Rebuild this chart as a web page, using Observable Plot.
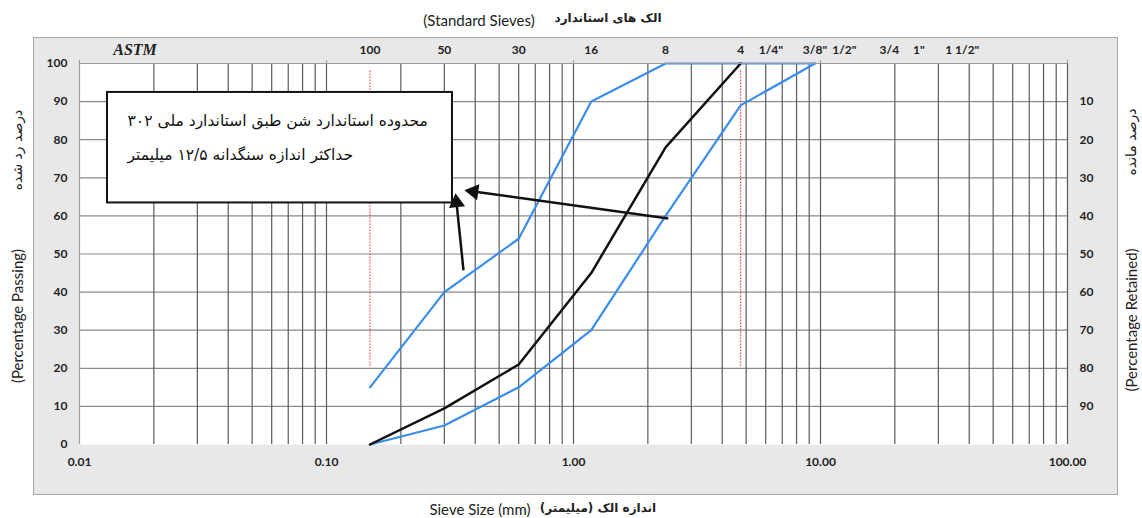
<!DOCTYPE html>
<html><head><meta charset="utf-8">
<script src="https://cdn.jsdelivr.net/npm/d3@7"></script>
<script src="https://cdn.jsdelivr.net/npm/@observablehq/plot@0.6"></script>
<style>
body{margin:0;background:#fff;}
#wrap{position:relative;width:1142px;height:518px;overflow:hidden;font-family:Lato,"Open Sans",sans-serif;}
#box{position:absolute;left:33px;top:37px;width:1083px;height:456px;background:#e8e8e8;border:1px solid #a6a6a6;}
#chart{position:absolute;left:0;top:0;}
.t{position:absolute;white-space:nowrap;color:#222;font-size:15px;transform:translate(-50%,-50%);}
.r{transform:translate(-50%,-50%) rotate(-90deg);}
.fa{font-family:"DejaVu Sans",sans-serif;font-weight:bold;font-size:12px;}
</style></head><body>
<div id="wrap">
<div id="box"></div>
<div id="chart"></div>
<div class="t" style="left:479px;top:20px;">(Standard Sieves)</div>
<div class="t fa" style="left:608px;top:18px;" dir="rtl">الک های استاندارد</div>
<div class="t" style="left:135px;top:50px;font-family:'Liberation Serif',serif;font-weight:bold;font-style:italic;font-size:16px;">ASTM</div>
<div class="t r" style="left:17px;top:316px;">(Percentage Passing)</div>
<div class="t r fa" style="left:17px;top:150px;font-weight:normal;font-size:14px;" dir="rtl">درصد رد شده</div>
<div class="t r" style="left:1131px;top:320px;">(Percentage Retained)</div>
<div class="t r fa" style="left:1131px;top:142px;font-weight:normal;font-size:14px;" dir="rtl">درصد مانده</div>
<div class="t" style="left:480px;top:509px;">Sieve Size (mm)</div>
<div class="t fa" style="left:598px;top:508px;" dir="rtl">اندازه الک (میلیمتر)</div>
</div>
<script>
// Standard sieves (top axis)
const sieveLabels = ["100","50","30","16","8","4","1/4\"","3/8\"","1/2\"","3/4","1\"","1 1/2\""];
const sieveSizes = [0.15,0.3,0.6,1.18,2.36,4.75,6.3,9.5,12.5,19,25,37.5];
// Sample gradation (black)
const sampleSizes = [0.15,0.3,0.6,1.18,2.36,4.75];
const samplePassing = [0,9.5,21,45,78,100];
// Standard limits (blue)
const upperSizes = [0.15,0.3,0.6,1.18,2.36,4.75,9.5];
const upperPassing = [15,40,54,90,100,100,100];
const lowerSizes = [0.15,0.3,0.6,1.18,2.36,4.75,9.5];
const lowerPassing = [0,5,15,30,60,89,100];
// Red dotted limit sieves
const limitSieves = [0.15,4.75];
// Axis ticks
const passingTicks = [0,10,20,30,40,50,60,70,80,90,100];
const retainedTicks = [90,80,70,60,50,40,30,20,10];
const sizeTicks = [0.01,0.1,1,10,100];
const gridMultipliers = [1,2,3,4,5,6,7,8,9];
const gridDecades = [0.01,0.1,1,10];
// Annotation
const noteLines = ["محدوده استاندارد شن طبق استاندارد ملی ۳۰۲","حداکثر اندازه سنگدانه ۱۲/۵ میلیمتر"];
const noteLineY = [85.0, 75.9];
const noteBox = [{x1:0.01298,x2:0.3236,y1:63.4,y2:92.4}];
const noteArrows = [
  {x1:2.42,y1:59.3,x2:0.394,y2:66.4,rot:-82},
  {x1:0.3586,y1:45.7,x2:0.336,y2:63.5,rot:-6}
];

const vGrid = gridDecades.flatMap(d => gridMultipliers.map(m => +(d*m).toPrecision(3))).concat([100]);
const series = (sz, p, name) => sz.map((s,i) => ({size:s, passing:p[i], name}));
const sample = series(sampleSizes, samplePassing, "sample");
const upper = series(upperSizes, upperPassing, "upper");
const lower = series(lowerSizes, lowerPassing, "lower");
const sieves = sieveSizes.map((s,i)=>({size:s,label:sieveLabels[i]}));
const notes = noteLines.map((t,i)=>({text:t,y:noteLineY[i]}));

const blue = "#3b8ded";
const chart = Plot.plot({
  width:1142, height:518,
  marginLeft:79, marginRight:75, marginTop:63, marginBottom:74,
  style:{background:"transparent", fontFamily:"Lato, 'Open Sans', sans-serif", fontSize:"12px", fontWeight:"bold", color:"#222", overflow:"visible"},
  x:{type:"log", domain:[0.01,100]},
  y:{domain:[0,100]},
  marks:[
    Plot.frame({fill:"white", stroke:null}),
    Plot.ruleY(passingTicks.slice(1), {stroke:"#8a8a8a", strokeWidth:1.2}),
    Plot.ruleX(vGrid.slice(1), {stroke:"#5a5a5a", strokeWidth:1.2}),
    Plot.ruleX([vGrid[0]], {stroke:"#a0a0a0", strokeWidth:1.2}),
    Plot.ruleX(limitSieves, {y1:20.5, y2:98.5, stroke:"#ff2020", strokeWidth:1, strokeDasharray:"1.5,1.5"}),
    Plot.line(upper, {x:"size", y:"passing", stroke:blue, strokeWidth:2.2}),
    Plot.line(lower, {x:"size", y:"passing", stroke:blue, strokeWidth:2.2}),
    Plot.line(sample, {x:"size", y:"passing", stroke:"#111", strokeWidth:2.5}),
    Plot.rect(noteBox, {x1:"x1", x2:"x2", y1:"y1", y2:"y2", fill:"white", stroke:"#111", strokeWidth:2}),
    Plot.text(notes, {x:0.01565, y:"y", text:"text", textAnchor:"start", fontFamily:"'DejaVu Sans', serif", fontWeight:"normal", fontSize:15.5, fill:"#111"}),
    Plot.link(noteArrows, {x1:"x1", y1:"y1", x2:"x2", y2:"y2", stroke:"#111", strokeWidth:2.5}),
    Plot.dot(noteArrows, {x:"x2", y:"y2", symbol:"triangle", r:6, rotate:"rot", fill:"#111", stroke:null}),
    Plot.axisY({ticks:passingTicks, tickSize:0, tickPadding:12, label:null}),
    Plot.axisY({anchor:"right", ticks:retainedTicks, tickFormat:d=>String(100-d), tickSize:0, tickPadding:12, label:null}),
    Plot.axisX({ticks:sizeTicks, tickFormat:d=>d.toFixed(2), tickSize:0, tickPadding:13, label:null}),
    Plot.axisX({anchor:"top", ticks:sizeTicks, tickFormat:()=>"", tickSize:4, label:null, stroke:"#999"}),
    Plot.ruleY([100], {stroke:"#999"}),
    Plot.text(sieves, {x:"size", y:100, text:"label", dy:-13, fontSize:12, fontWeight:"bold", fill:"#222"})
  ]
});
document.getElementById("chart").appendChild(chart);
</script>
</body></html>
